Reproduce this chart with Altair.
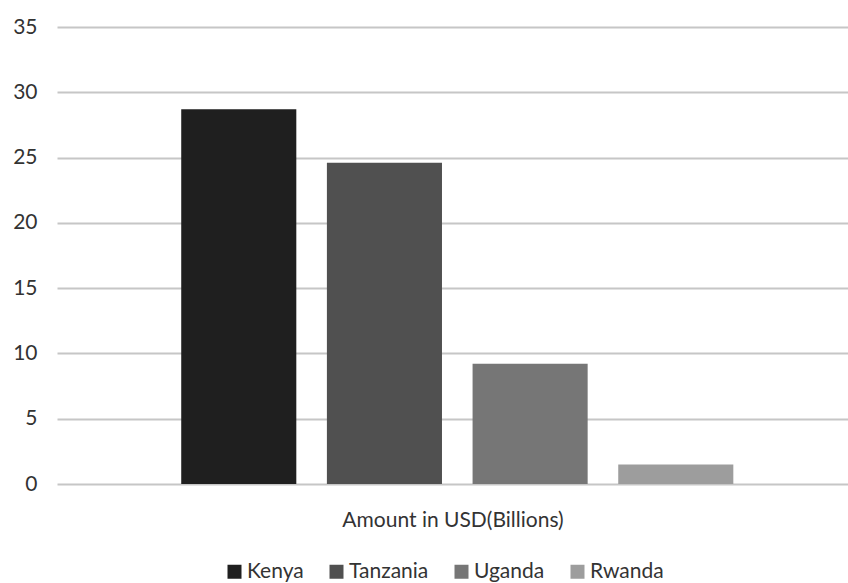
import altair as alt
import pandas as pd

countries = ["Kenya", "Tanzania", "Uganda", "Rwanda"]
amounts = [28.7, 24.6, 9.2, 1.5]
colors = ["#1f1f1f", "#505050", "#767676", "#9d9d9d"]
y_ticks = [0, 5, 10, 15, 20, 25, 30, 35]

df = pd.DataFrame({"Country": countries, "Amount": amounts})

FONT = "Lato"

chart = alt.Chart(df).mark_bar().encode(
    x=alt.X(
        "Country:N",
        sort=countries,
        scale=alt.Scale(paddingInner=0.21, paddingOuter=0.82, align=0.52),
        axis=alt.Axis(
            title="Amount in USD(Billions)",
            labels=False,
            ticks=False,
            domain=False,
            grid=False,
            titleFont=FONT,
            titleFontSize=21,
            titleFontWeight="normal",
            titleColor="#333333",
            titlePadding=25,
        ),
    ),
    y=alt.Y(
        "Amount:Q",
        scale=alt.Scale(domain=[0, 35], nice=False),
        axis=alt.Axis(
            title=None,
            values=y_ticks,
            ticks=False,
            domain=False,
            grid=True,
            gridColor="#c6c6c6",
            gridWidth=2,
            labelFont=FONT,
            labelFontSize=21,
            labelColor="#333333",
            labelPadding=20,
        ),
    ),
    color=alt.Color(
        "Country:N",
        sort=countries,
        scale=alt.Scale(domain=countries, range=colors),
        legend=alt.Legend(
            title=None,
            orient="none",
            legendX=167,
            legendY=534,
            direction="horizontal",
            symbolType="square",
            symbolSize=196,
            symbolStrokeWidth=0,
            labelFont=FONT,
            labelFontSize=21,
            labelColor="#333333",
            labelLimit=200,
            labelOffset=2,
            columnPadding=22,
            symbolOffset=0,
        ),
    ),
).properties(
    width=791,
    height=457,
    autosize=alt.AutoSizeParams(type="none"),
    padding={"left": 57, "top": 27, "right": 0, "bottom": 99},
).configure(background="white").configure_view(stroke=None)

chart.save("out.html", embed_options={"renderer": "svg", "actions": False})
